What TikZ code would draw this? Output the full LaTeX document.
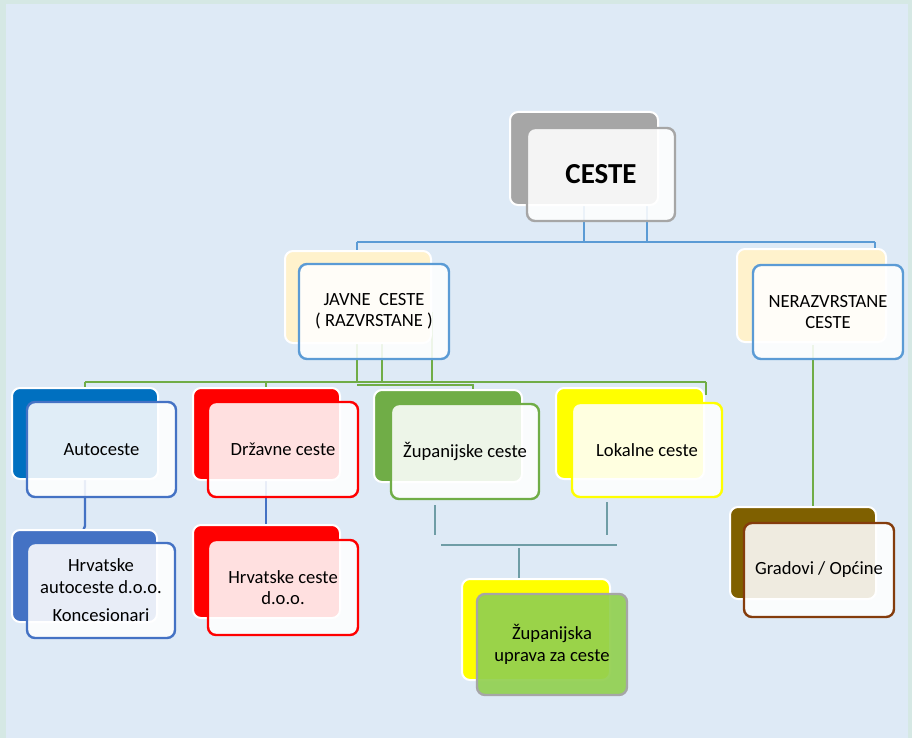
\documentclass[tikz,border=0pt]{standalone}
\usepackage{fontspec}
\setmainfont{Carlito}
\usetikzlibrary{calc}
\pgfdeclarelayer{bg}
\pgfsetlayers{bg,main}
\definecolor{outerbg}{HTML}{D5E8E4}
\definecolor{innerbg}{HTML}{DEEAF6}
\definecolor{cblue}{HTML}{5B9BD5}
\definecolor{cgreen}{HTML}{70AD47}
\definecolor{cdblue}{HTML}{4472C4}
\definecolor{cteal}{HTML}{6F9DA6}
\definecolor{cgray}{HTML}{A6A6A6}
\definecolor{ccream}{HTML}{FFF2CC}
\definecolor{cazure}{HTML}{0070C0}
\definecolor{cred}{HTML}{FF0000}
\definecolor{cyel}{HTML}{FFFF00}
\definecolor{clime}{HTML}{92D050}
\definecolor{colive}{HTML}{7F6000}
\definecolor{cbrown}{HTML}{843C0C}
\begin{document}
\begin{tikzpicture}[x=1pt,y=-1pt,
  corners/.style args={#1/#2/#3/#4}{at={({(#1+#3)/2},{(#2+#4)/2})},
    minimum width={(#3-#1)*1pt}, minimum height={(#4-#2)*1pt}},
  backbox/.style={draw=white, line width=2pt, rounded corners=8pt, fill=#1, inner sep=0pt},
  frontbox/.style={draw=#1, line width=2.4pt, rounded corners=8pt, fill=white,
    fill opacity=0.88, text opacity=1, inner sep=0pt, align=center,
    font=\fontsize{18.6}{21.5}\selectfont},
  conn/.style={draw=#1, line width=2.4pt},
  thin/.style={draw=cteal, line width=1.7pt}
]
\useasboundingbox (0,0) rectangle (912,738);
\begin{pgfonlayer}{bg}
\fill[outerbg] (0,0) rectangle (912,738);
\fill[innerbg] (6,4) rectangle (908,738);
\end{pgfonlayer}

% boxes
\node[backbox=cgray, corners=510/112/658/205] (cesteB) {};
\node[frontbox=cgray, corners=527/128/675/221, font=\fontsize{29}{32}\selectfont\bfseries] (cesteF) {CESTE};

\node[backbox=ccream, corners=285/251/431/343] (javB) {};
\node[frontbox=cblue, corners=299/264/449/359] (javF) {JAVNE\ \ CESTE\\( RAZVRSTANE )};

\node[backbox=ccream, corners=737/249/886/342] (nerB) {};
\node[frontbox=cblue, corners=753/265/903/359] (nerF) {NERAZVRSTANE\\CESTE};

\node[backbox=cazure, corners=12/388/158/479] (autB) {};
\node[frontbox=cdblue, corners=27/402/176/497] (autF) {Autoceste};

\node[backbox=cred, corners=193/388/340/480] (drzB) {};
\node[frontbox=cred, corners=208/402/358/497] (drzF) {Državne ceste};

\node[backbox=cgreen, corners=374/390/522/482] (zupB) {};
\node[frontbox=cgreen, corners=391/404/539/499] (zupF) {Županijske ceste};

\node[backbox=cyel, corners=556/388/704/479] (lokB) {};
\node[frontbox=cyel, corners=572/403/722/497] (lokF) {Lokalne ceste};

\node[backbox=cdblue, corners=12/530/157/622] (hacB) {};
\node[frontbox=cdblue, corners=27/543/175/638] (hacF) {Hrvatske\\autoceste d.o.o.\\[7pt]Koncesionari};

\node[backbox=cred, corners=193/525/340/618] (hcB) {};
\node[frontbox=cred, corners=208/540/358/635] (hcF) {Hrvatske ceste\\d.o.o.};

\node[backbox=cyel, corners=462/579/610/680] (zuB) {};
\node[frontbox=cgray, fill=clime, fill opacity=0.92, corners=477/594/627/695] (zuF) {Županijska\\uprava za ceste};

\node[backbox=colive, corners=730/507/876/599] (grB) {};
\node[frontbox=cbrown, corners=744/523/894/617] (grF) {Gradovi / Općine};

% connectors
\begin{pgfonlayer}{bg}
\coordinate (c1) at (584,242);
\coordinate (c2) at (647,242);
\coordinate (busL) at (357,242);
\coordinate (busR) at (875,242);
\draw[conn=cblue] (cesteF.center -| c1) -- (c1);
\draw[conn=cblue] (cesteF.center -| c2) -- (c2);
\draw[conn=cblue] (busL) -- (busR);
\draw[conn=cblue] (busL) -- (javB.north -| busL);
\draw[conn=cblue] (busR) -- (nerB.north -| busR);

\coordinate (jx1) at (357,382);
\coordinate (jx2) at (382,382);
\coordinate (jx3) at (432,382);
\coordinate (g1) at (85,382);
\coordinate (g2) at (706,382);
\coordinate (gd) at (266,382);
\coordinate (h1) at (357,385);
\coordinate (h2) at (473,385);
\draw[conn=cgreen] (javF.center -| jx1) -- (jx1);
\draw[conn=cgreen] (javF.center -| jx2) -- (jx2);
\draw[conn=cgreen] (javF.center -| jx3) -- (jx3);
\draw[conn=cgreen] (g1) -- (g2);
\draw[conn=cgreen] (g1) -- (autB.north -| g1);
\draw[conn=cgreen] (gd) -- (drzB.north -| gd);
\draw[conn=cgreen] (g2) -- ([yshift=-8pt]lokB.north -| g2);
\draw[conn=cgreen] (h1) -- (h2) -- (zupB.north -| h2);

\coordinate (ab) at (85,526);
\coordinate (ab2) at (83,531);
\draw[conn=cdblue] (autF.center -| ab) -- (ab) -- (ab2);
\coordinate (db) at (266,524);
\draw[conn=cdblue] (drzF.center -| db) -- (db);

\coordinate (t1a) at (435,505);
\coordinate (t1b) at (435,535);
\coordinate (t2a) at (607,502);
\coordinate (t2b) at (607,535);
\coordinate (t3a) at (441,545);
\coordinate (t3b) at (617,545);
\coordinate (t4a) at (519,548);
\draw[thin] (t1a) -- (t1b);
\draw[thin] (t2a) -- (t2b);
\draw[thin] (t3a) -- (t3b);
\draw[thin] (t4a) -- (zuB.north -| t4a);

\coordinate (n1) at (813,345);
\draw[conn=cgreen] (n1) -- (grB.north -| n1);
\end{pgfonlayer}
\end{tikzpicture}
\end{document}
